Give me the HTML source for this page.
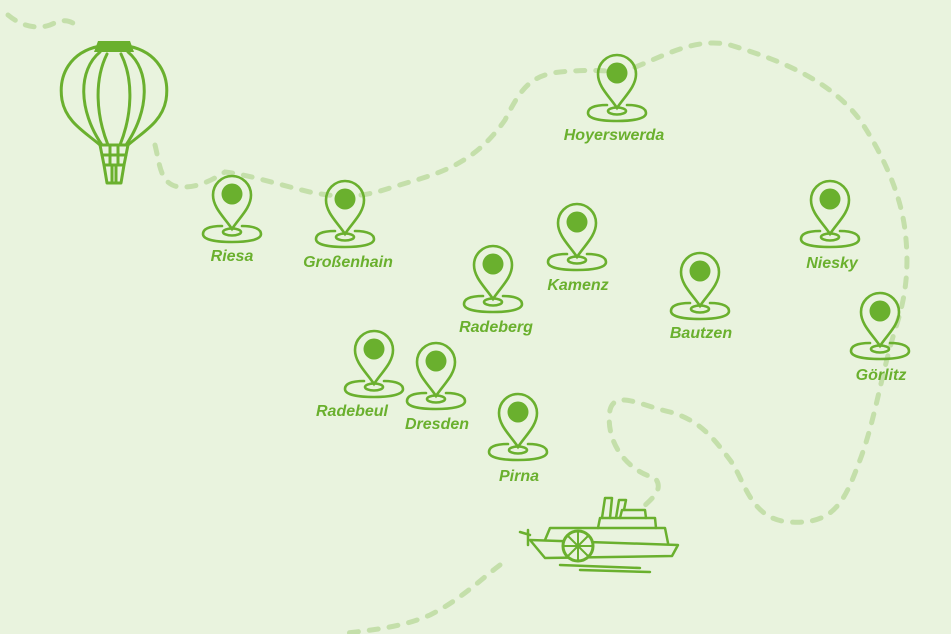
<!DOCTYPE html>
<html><head><meta charset="utf-8"><style>
html,body{margin:0;padding:0;background:#e9f3de;}
svg{display:block}
text{font-family:"Liberation Sans",sans-serif;font-weight:bold;font-style:italic;font-size:16px;fill:#6ab02e;text-anchor:middle}
</style></head><body>
<svg width="951" height="634" viewBox="0 0 951 634" xmlns="http://www.w3.org/2000/svg">
<defs>
<g id="pin" fill="none" stroke="#6ab02e" stroke-width="2.6" stroke-linecap="round">
<path d="M0,34 C-7,23 -19,13 -19,0 A19,19 0 1 1 19,0 C19,13 7,23 0,34 Z"/>
<circle cx="0" cy="-1" r="10.5" fill="#6ab02e" stroke="none"/>
<path d="M-10,31 C-25,31 -29,35 -29,39 C-29,45 -15,47 0,47 C15,47 29,45 29,39 C29,35 24,31 10,31"/>
<ellipse cx="0" cy="37" rx="9" ry="3.5"/>
</g>
</defs>
<g fill="none" stroke="#c4dfaa" stroke-width="5" stroke-linecap="round" stroke-dasharray="9 11">
<path d="M8,15 C20,25 35,30 50,25 C65,18 70,20 80,28"/>
<path d="M155,145 C160,165 160,185 180,187 C200,188 215,178 225,172 C250,175 280,185 310,192 C340,198 360,198 390,188 C430,175 470,170 505,120 C520,90 530,75 560,72 C580,70 600,70 620,72 C650,65 690,35 730,45 C780,60 830,80 860,120 C880,150 900,190 905,230 C910,270 905,300 895,330 C880,380 875,420 860,460 C845,500 835,525 790,522 C750,520 745,480 730,460 C715,440 700,420 670,412 C640,405 615,390 610,410 C605,440 625,470 655,478 C665,490 650,500 640,510"/>
<path d="M500,565 C480,580 460,600 430,615 C400,628 370,630 340,634"/>
</g>
<!-- balloon -->
<g fill="none" stroke="#6ab02e" stroke-width="3" stroke-linecap="round" stroke-linejoin="round">
<path d="M100,46 C70,52 58,75 62,100 C66,122 85,132 100,145 L128,145 C143,132 162,122 166,100 C170,75 158,52 128,46 Z"/>
<path d="M100,52 C78,70 78,110 102,145"/>
<path d="M128,52 C150,70 150,110 126,145"/>
<path d="M107,54 C94,80 96,115 108,145"/>
<path d="M121,54 C134,80 132,115 120,145"/>
<path d="M100,145 L104,165 L124,165 L128,145"/>
<path d="M104,165 L107,183 L121,183 L124,165"/>
<path d="M102,155 L126,155"/>
<path d="M110,145 L110,165 M118,145 L118,165 M112,165 L112,183 M116,165 L116,183"/>
</g>
<path d="M98,41 L130,41 L134,52 L94,52 Z" fill="#6ab02e"/>
<!-- pins -->
<use href="#pin" x="232" y="195"/><text x="232" y="261">Riesa</text>
<use href="#pin" x="345" y="200"/><text x="348" y="267">Großenhain</text>
<use href="#pin" x="617" y="74"/><text x="614" y="140">Hoyerswerda</text>
<use href="#pin" x="577" y="223"/><text x="578" y="290">Kamenz</text>
<use href="#pin" x="493" y="265"/><text x="496" y="332">Radeberg</text>
<use href="#pin" x="830" y="200"/><text x="832" y="268">Niesky</text>
<use href="#pin" x="700" y="272"/><text x="701" y="338">Bautzen</text>
<use href="#pin" x="880" y="312"/><text x="881" y="380">Görlitz</text>
<use href="#pin" x="374" y="350"/><text x="352" y="416">Radebeul</text>
<use href="#pin" x="436" y="362"/><text x="437" y="429">Dresden</text>
<use href="#pin" x="518" y="413"/><text x="519" y="481">Pirna</text>
<!-- boat -->
<g fill="none" stroke="#6ab02e" stroke-width="2.5" stroke-linecap="round" stroke-linejoin="round">
<path d="M530,540 L678,545 L672,556 L545,558 Z"/>
<path d="M545,540 L550,528 L665,528 L668,543"/>
<path d="M598,528 L600,518 L655,518 L656,528"/>
<path d="M620,518 L622,510 L645,510 L646,518"/>
<path d="M602,518 L605,498 L612,498 L610,518"/>
<path d="M616,518 L619,500 L626,500 L624,510"/>
<path d="M528,530 L528,545 M520,532 L530,535"/>
<path d="M560,565 L640,568 M580,570 L650,572"/>
</g>
<circle cx="578" cy="546" r="15" fill="#e9f3de" stroke="#6ab02e" stroke-width="3"/>
<path d="M563,546 L593,546 M578,531 L578,561 M568,536 L588,556 M588,536 L568,556" stroke="#6ab02e" stroke-width="2"/>
</svg>
</body></html>
